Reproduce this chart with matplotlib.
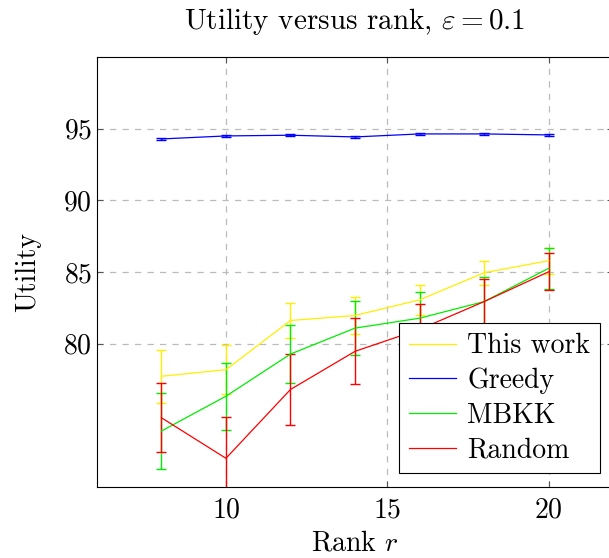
import matplotlib.pyplot as plt
from matplotlib.lines import Line2D

plt.rcParams['font.family'] = 'cmr10'
plt.rcParams['mathtext.fontset'] = 'cm'
plt.rcParams['axes.formatter.use_mathtext'] = True

# data
rank = [8, 10, 12, 14, 16, 18, 20]

this_work = [77.73, 78.19, 81.62, 81.97, 83.06, 84.95, 85.79]
this_work_err = [1.85, 1.73, 1.2, 1.27, 1.05, 0.83, 0.9]

greedy = [94.28, 94.49, 94.54, 94.42, 94.63, 94.63, 94.56]
greedy_err = [0.05, 0.05, 0.05, 0.05, 0.05, 0.05, 0.05]

mbkk = [73.91, 76.34, 79.28, 81.09, 81.78, 82.94, 85.26]
mbkk_err = [2.64, 2.35, 2.0, 1.9, 1.8, 1.7, 1.45]

random_ = [74.84, 72.01, 76.81, 79.47, 81.0, 82.94, 85.02]
random_err = [2.4, 2.85, 2.45, 2.3, 1.8, 1.55, 1.3]

series = [
    ('This work', this_work, this_work_err, '#ffee00'),
    ('Greedy', greedy, greedy_err, '#0000ff'),
    ('MBKK', mbkk, mbkk_err, '#00ee00'),
    ('Random', random_, random_err, '#ff0000'),
]

fig = plt.figure(figsize=(6.09, 5.58), dpi=100)
ax = fig.add_axes([0.159, 0.127, 0.848, 0.771])

handles = []
for name, vals, err, col in series:
    ax.errorbar(rank, vals, yerr=err, color=col, lw=0.9, elinewidth=1.0,
                capsize=3.5, capthick=1.0)
    handles.append(Line2D([], [], color=col, lw=0.9, label=name))

ax.set_xlim(6, 22)
ax.set_ylim(70, 100)
ax.set_xticks([10, 15, 20])
ax.set_yticks([80, 85, 90, 95])
ax.tick_params(direction='in', labelsize=20, length=4, top=True, right=True,
               color='#555555')
ax.tick_params(axis='x', pad=7)
ax.grid(True, linestyle=(0, (5, 5)), color='#bbbbbb', lw=0.9)
ax.set_axisbelow(True)

ax.set_xlabel('Rank $r$', fontsize=20, labelpad=5)
ax.set_ylabel('Utility', fontsize=20, labelpad=16)
ax.set_title(r'Utility versus rank, $\varepsilon = 0.1$', fontsize=21, pad=20)

leg = ax.legend(handles=handles, loc='lower right', fontsize=20, fancybox=False,
                framealpha=1, edgecolor='black', borderaxespad=0,
                bbox_to_anchor=(0.985, 0.152), bbox_transform=fig.transFigure,
                handlelength=1.7, labelspacing=0.3, borderpad=0.35,
                handletextpad=0.4)
leg.get_frame().set_linewidth(0.8)

plt.savefig('out.png', dpi=100)
